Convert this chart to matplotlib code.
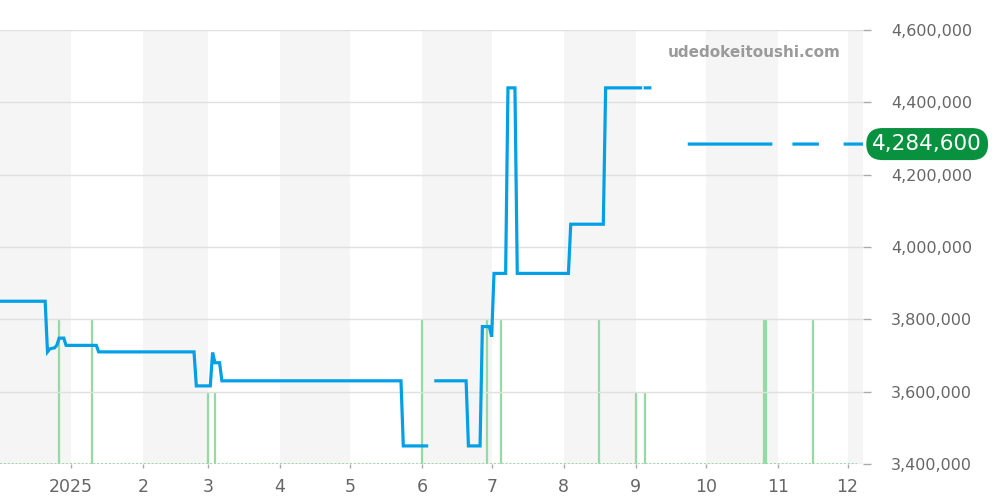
import matplotlib
matplotlib.use("Agg")
import matplotlib.pyplot as plt
import numpy as np
from datetime import datetime

# ---- data ----
price_dates = [
    "2024-11-30", "2024-12-21", "2024-12-22", "2024-12-23", "2024-12-24", "2024-12-25",
    "2024-12-26", "2024-12-27", "2024-12-29", "2024-12-30", "2025-01-12", "2025-01-13",
    "2025-02-23", "2025-02-24", "2025-03-02", "2025-03-03", "2025-03-04", "2025-03-06",
    "2025-03-07", "2025-05-23", "2025-05-24", "2025-06-03", None,
    "2025-06-07", "2025-06-20", "2025-06-21", "2025-06-26", "2025-06-27", "2025-06-30",
    "2025-07-01", "2025-07-02", "2025-07-07", "2025-07-08", "2025-07-11", "2025-07-12",
    "2025-08-03", "2025-08-04", "2025-08-18", "2025-08-19", "2025-09-03", None,
    "2025-09-05", "2025-09-07", None,
    "2025-09-24", "2025-10-29", None,
    "2025-11-08", "2025-11-18", None,
    "2025-11-30", "2025-12-08",
]
price_values = [
    3850000, 3850000, 3710000, 3718000, 3720000, 3721000,
    3728000, 3748000, 3748000, 3728000, 3728000, 3710000,
    3710000, 3616000, 3616000, 3708000, 3680000, 3680000,
    3630000, 3630000, 3450000, 3450000, None,
    3630000, 3630000, 3450000, 3450000, 3780000, 3780000,
    3752000, 3927000, 3927000, 4440000, 4440000, 3927000,
    3927000, 4063000, 4063000, 4440000, 4440000, None,
    4440000, 4440000, None,
    4284600, 4284600, None,
    4284600, 4284600, None,
    4284600, 4284600,
]

volume_dates = ["2024-12-27", "2025-01-10", "2025-03-01", "2025-03-04", "2025-06-01",
                "2025-06-29", "2025-07-05", "2025-08-16", "2025-09-01", "2025-09-05",
                "2025-10-26", "2025-10-27", "2025-11-16"]
volume_values = [2, 2, 1, 1, 2, 2, 2, 2, 1, 1, 2, 2, 2]

month_starts = ["2024-12-01", "2025-01-01", "2025-02-01", "2025-03-01", "2025-04-01",
                "2025-05-01", "2025-06-01", "2025-07-01", "2025-08-01", "2025-09-01",
                "2025-10-01", "2025-11-01", "2025-12-01", "2026-01-01"]
tick_labels = ["2025", "2", "3", "4", "5", "6", "7", "8", "9", "10", "11", "12"]
y_ticks = [3400000, 3600000, 3800000, 4000000, 4200000, 4400000, 4600000]
last_price = 4284600
watermark = "udedokeitoushi.com"

# ---- figure ----
fig = plt.figure(figsize=(10, 5), dpi=100)
ax_v = fig.add_axes([0.0, 0.072, 0.8633, 0.868])
ax = ax_v.twinx()
ax_v.set_zorder(0)
ax.set_zorder(1)
ax.patch.set_visible(False)

x_left = datetime(2024, 12, 1, 14)
x_right = datetime(2025, 12, 7, 19)

# month bands
ms = [datetime.strptime(d, "%Y-%m-%d") for d in month_starts]
for i in range(len(ms) - 1):
    if i % 2 == 0:
        ax_v.axvspan(ms[i], ms[i + 1], color="#f5f5f5", lw=0, zorder=0)

# volume
vd = [datetime.strptime(d, "%Y-%m-%d") for d in volume_dates]
ax_v.vlines(vd, 0, volume_values, color="#95d9a3", lw=1.6, zorder=2)
ax_v.axhline(0, xmin=0, xmax=0.993, color="#8fd49c", lw=1.4, ls=(0, (1, 1)), zorder=2)
ax_v.set_ylim(0, 6)
ax_v.set_yticks([])

# price line (None marks a gap: reuse previous date with NaN value)
px, py = [], []
prev = None
for d, v in zip(price_dates, price_values):
    if d is None:
        px.append(prev)
        py.append(np.nan)
    else:
        prev = datetime.strptime(d, "%Y-%m-%d")
        px.append(prev)
        py.append(float(v))
ax.plot(px, py, color="#03a0e6", lw=2.3, solid_joinstyle="miter", zorder=3)

ax.set_ylim(3400000, 4600000)
ax.set_yticks(y_ticks)
ax.set_yticklabels([f"{v:,}" for v in y_ticks])
ax.yaxis.tick_right()
ax.grid(axis="y", color="#e0e0e0", lw=1)
ax.tick_params(axis="y", length=6, width=1, color="#aaaaaa", pad=14,
               labelsize=11.5, labelcolor="#666666")

ax_v.set_xlim(x_left, x_right)
ax_v.set_xticks(ms[1:13])
ax_v.set_xticklabels(tick_labels)
ax_v.tick_params(axis="x", length=3, width=1, color="#aaaaaa", pad=7,
                 labelsize=12.5, labelcolor="#666666")
ax.tick_params(axis="x", length=0)

for a in (ax, ax_v):
    for s in a.spines.values():
        s.set_visible(False)

# watermark
ax.text(0.974, 0.949, watermark, transform=ax.transAxes, ha="right", va="center",
        fontsize=11, fontweight="bold", color="#9a9a9a")

# last price label
ax.annotate(f"{last_price:,}", xy=(1.0, last_price), xycoords=("axes fraction", "data"),
            xytext=(9, 0), textcoords="offset pixels", ha="left", va="center",
            fontsize=15.5, color="white",
            bbox=dict(boxstyle="round,pad=0.28,rounding_size=0.75", fc="#08913f", ec="none"),
            annotation_clip=False, zorder=5)

fig.savefig("out.png", dpi=100)
